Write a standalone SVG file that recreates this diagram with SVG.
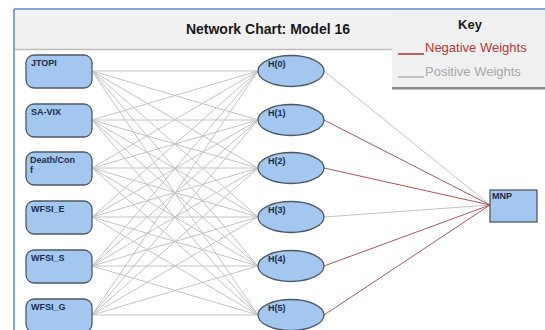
<svg xmlns="http://www.w3.org/2000/svg" width="545" height="330" viewBox="0 0 545 330">
<style>
.in{fill:#a3c7ee;stroke:#4d5966;stroke-width:1.3}
.lbl{font-family:"Liberation Sans",Arial,sans-serif;font-weight:bold;font-size:9px;fill:#1c2a4a}
.pos{stroke:#c3c3c3;stroke-width:1;fill:none}
.neg{stroke:#a8585a;stroke-width:1;fill:none}
.key{font-family:"Liberation Sans",Arial,sans-serif;font-size:13px}
</style>
<rect x="0" y="0" width="545" height="330" fill="#ffffff"/>
<g id="frame">
<rect x="14" y="10" width="531" height="39" fill="#f1f1f1"/>
<line x1="14" y1="49.5" x2="392" y2="49.5" stroke="#bdbdbd" stroke-width="1.5"/>
<line x1="14" y1="9" x2="545" y2="9" stroke="#5a86d0" stroke-width="1.5"/>
<line x1="14" y1="9" x2="14" y2="330" stroke="#5a86d0" stroke-width="1.5"/>
<text x="268" y="34" text-anchor="middle" font-family="'Liberation Sans',Arial,sans-serif" font-weight="bold" font-size="14" fill="#1a1a1a">Network Chart: Model 16</text>
</g>
<g id="connectors">
<g class="pos">
<path d="M92 71L258 71M92 71L258 120M92 71L258 168M92 71L258 217M92 71L258 266M92 71L258 315"/>
<path d="M92 120L258 71M92 120L258 120M92 120L258 168M92 120L258 217M92 120L258 266M92 120L258 315"/>
<path d="M92 168L258 71M92 168L258 120M92 168L258 168M92 168L258 217M92 168L258 266M92 168L258 315"/>
<path d="M92 217L258 71M92 217L258 120M92 217L258 168M92 217L258 217M92 217L258 266M92 217L258 315"/>
<path d="M92 266L258 71M92 266L258 120M92 266L258 168M92 266L258 217M92 266L258 266M92 266L258 315"/>
<path d="M92 315L258 71M92 315L258 120M92 315L258 168M92 315L258 217M92 315L258 266M92 315L258 315"/>
<path d="M324 71L490 205M324 217L490 205"/>
</g>
<path class="neg" d="M324 120L490 205M324 168L490 205M324 266L490 205M324 315L490 205"/>
</g>
<g id="JTOPI"><rect class="in" x="26" y="55" width="66" height="33" rx="8"/><text class="lbl" x="31" y="66">JTOPI</text></g>
<g id="SA-VIX"><rect class="in" x="26" y="104" width="66" height="33" rx="8"/><text class="lbl" x="31" y="115">SA-VIX</text></g>
<g id="DeathConf"><rect class="in" x="26" y="152" width="66" height="33" rx="8"/><text class="lbl" x="30" y="163">Death/Con</text><text class="lbl" x="30" y="173">f</text></g>
<g id="WFSI_E"><rect class="in" x="26" y="201" width="66" height="33" rx="8"/><text class="lbl" x="31" y="212">WFSI_E</text></g>
<g id="WFSI_S"><rect class="in" x="26" y="250" width="66" height="33" rx="8"/><text class="lbl" x="31" y="261">WFSI_S</text></g>
<g id="WFSI_G"><rect class="in" x="26" y="299" width="66" height="33" rx="8"/><text class="lbl" x="31" y="310">WFSI_G</text></g>
<g id="H0"><ellipse class="in" cx="291" cy="71" rx="33" ry="15.5"/><text class="lbl" x="268" y="67">H(0)</text></g>
<g id="H1"><ellipse class="in" cx="291" cy="120" rx="33" ry="15.5"/><text class="lbl" x="268" y="116">H(1)</text></g>
<g id="H2"><ellipse class="in" cx="291" cy="168" rx="33" ry="15.5"/><text class="lbl" x="268" y="164">H(2)</text></g>
<g id="H3"><ellipse class="in" cx="291" cy="217" rx="33" ry="15.5"/><text class="lbl" x="268" y="213">H(3)</text></g>
<g id="H4"><ellipse class="in" cx="291" cy="266" rx="33" ry="15.5"/><text class="lbl" x="268" y="262">H(4)</text></g>
<g id="H5"><ellipse class="in" cx="291" cy="315" rx="33" ry="15.5"/><text class="lbl" x="268" y="311">H(5)</text></g>
<g id="MNP"><rect class="in" x="490" y="190" width="47" height="32"/><text class="lbl" x="492" y="199">MNP</text></g>
<g id="key">
<rect x="392" y="13" width="153" height="76" fill="#f0f0f0"/>
<rect x="392" y="87" width="153" height="2.5" fill="#8a8a8a"/>
<text x="470" y="29" text-anchor="middle" class="key" font-weight="bold" fill="#1a1a1a">Key</text>
<line x1="398" y1="54" x2="424" y2="54" stroke="#b03030" stroke-width="1.5"/>
<text x="425" y="52" class="key" fill="#b23a3a">Negative Weights</text>
<line x1="398" y1="77" x2="424" y2="77" stroke="#b5b5b5" stroke-width="1.5"/>
<text x="425" y="76" class="key" fill="#a8a8a8">Positive Weights</text>
</g>
</svg>
